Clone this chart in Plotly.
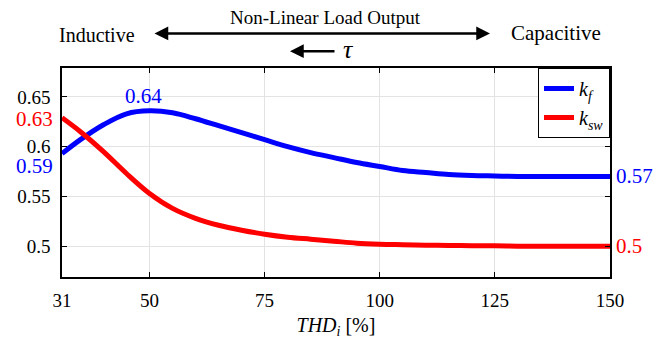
import plotly.graph_objects as go

thd = [31, 35, 40, 45, 50, 55, 60, 65, 70, 75, 80, 85, 90, 95, 100, 105, 110, 115, 120, 125, 130, 135, 140, 145, 150]
kf = [0.593, 0.607, 0.622, 0.633, 0.636, 0.634, 0.628, 0.621, 0.614, 0.607, 0.600, 0.594, 0.589, 0.584, 0.580, 0.576, 0.574, 0.572, 0.571, 0.5705, 0.570, 0.570, 0.570, 0.570, 0.570]
ksw = [0.629, 0.615, 0.595, 0.573, 0.553, 0.538, 0.528, 0.521, 0.516, 0.512, 0.509, 0.507, 0.505, 0.503, 0.502, 0.5015, 0.501, 0.5007, 0.5005, 0.5003, 0.500, 0.500, 0.500, 0.500, 0.500]
xticks = [31, 50, 75, 100, 125, 150]
yticks = [0.5, 0.55, 0.6, 0.65]
yticklabels = ["0.5", "0.55", "0.6", "0.65"]

FONT = "Liberation Serif"
W, H = 658, 345
L, R, T, B = 62, 48, 68, 65
pw, ph = W - L - R, H - T - B

def px(x):
    return (x - L) / pw

def py(y):
    return (H - B - y) / ph

fig = go.Figure()
fig.add_trace(go.Scatter(x=thd, y=kf, mode="lines", line=dict(color="#0000ff", width=5, shape="spline"),
                         name="<i>k<sub>f</sub></i>"))
fig.add_trace(go.Scatter(x=thd, y=ksw, mode="lines", line=dict(color="#ff0000", width=5, shape="spline"),
                         name="<i>k<sub>sw</sub></i>"))

def txt(x, y, text, color="black", size=21, xref="paper", yref="paper", xanchor="center"):
    return dict(x=x, y=y, xref=xref, yref=yref, text=text, showarrow=False,
                xanchor=xanchor, yanchor="middle", font=dict(color=color, size=size, family=FONT))

ann = []
ann.append(txt(-0.012, 0.6275, "0.63", "#ff0000", yref="y", xanchor="right"))
ann.append(txt(-0.012, 0.5805, "0.59", "#0000ff", yref="y", xanchor="right"))
ann.append(txt(48.6, 0.6505, "0.64", "#0000ff", xref="x", yref="y"))
ann.append(txt(1.008, 0.57, "0.57", "#0000ff", yref="y", xanchor="left"))
ann.append(txt(1.008, 0.5, "0.5", "#ff0000", yref="y", xanchor="left"))
ann.append(txt(px(97), py(35), "Inductive", size=20))
ann.append(txt(px(556), py(33), "Capacitive", size=21))
ann.append(txt(px(325), py(17), "Non-Linear Load Output", size=19))
ann.append(txt(px(348), py(49), "<i>τ</i>", size=26))
ann.append(dict(x=px(490), y=py(33), xref="paper", yref="paper", text="", showarrow=True,
                axref="pixel", ayref="pixel", ax=-(490 - 153), ay=0, arrowhead=2, arrowside="end+start",
                arrowsize=1.1, arrowwidth=2.5, arrowcolor="black", standoff=0, startstandoff=0))
ann.append(dict(x=px(290), y=py(51), xref="paper", yref="paper", text="", showarrow=True,
                axref="pixel", ayref="pixel", ax=(336 - 290), ay=0, arrowhead=2,
                arrowsize=1.1, arrowwidth=2.5, arrowcolor="black", standoff=0))
fig.update_layout(annotations=ann)

fig.update_layout(
    width=W, height=H,
    margin=dict(l=L, r=R, t=T, b=B),
    paper_bgcolor="white", plot_bgcolor="white",
    font=dict(family=FONT, size=19, color="black"),
    showlegend=True,
    legend=dict(x=1, y=1, xanchor="right", yanchor="top", bordercolor="black", borderwidth=1,
                bgcolor="white", font=dict(size=20, family=FONT), tracegroupgap=0,
                itemwidth=30),
    xaxis=dict(range=[31, 150], tickvals=xticks, ticktext=[str(v) for v in xticks],
               showgrid=True, gridcolor="#e3e3e3", gridwidth=1,
               showline=True, linecolor="black", linewidth=1.5, mirror="ticks",
               ticks="inside", ticklen=5, tickcolor="black", zeroline=False,
               ticklabelstandoff=5,
               title=dict(text="<i>THD<sub>i</sub></i> [%]", font=dict(size=20, family=FONT), standoff=8),
               tickfont=dict(size=19, family=FONT)),
    yaxis=dict(range=[0.469, 0.679], tickvals=yticks, ticktext=yticklabels,
               showgrid=True, gridcolor="#e3e3e3", gridwidth=1,
               showline=True, linecolor="black", linewidth=1.5, mirror="ticks",
               ticks="inside", ticklen=5, tickcolor="black", zeroline=False,
               ticklabelstandoff=6,
               tickfont=dict(size=19, family=FONT)),
)

fig.write_html("out.html")
